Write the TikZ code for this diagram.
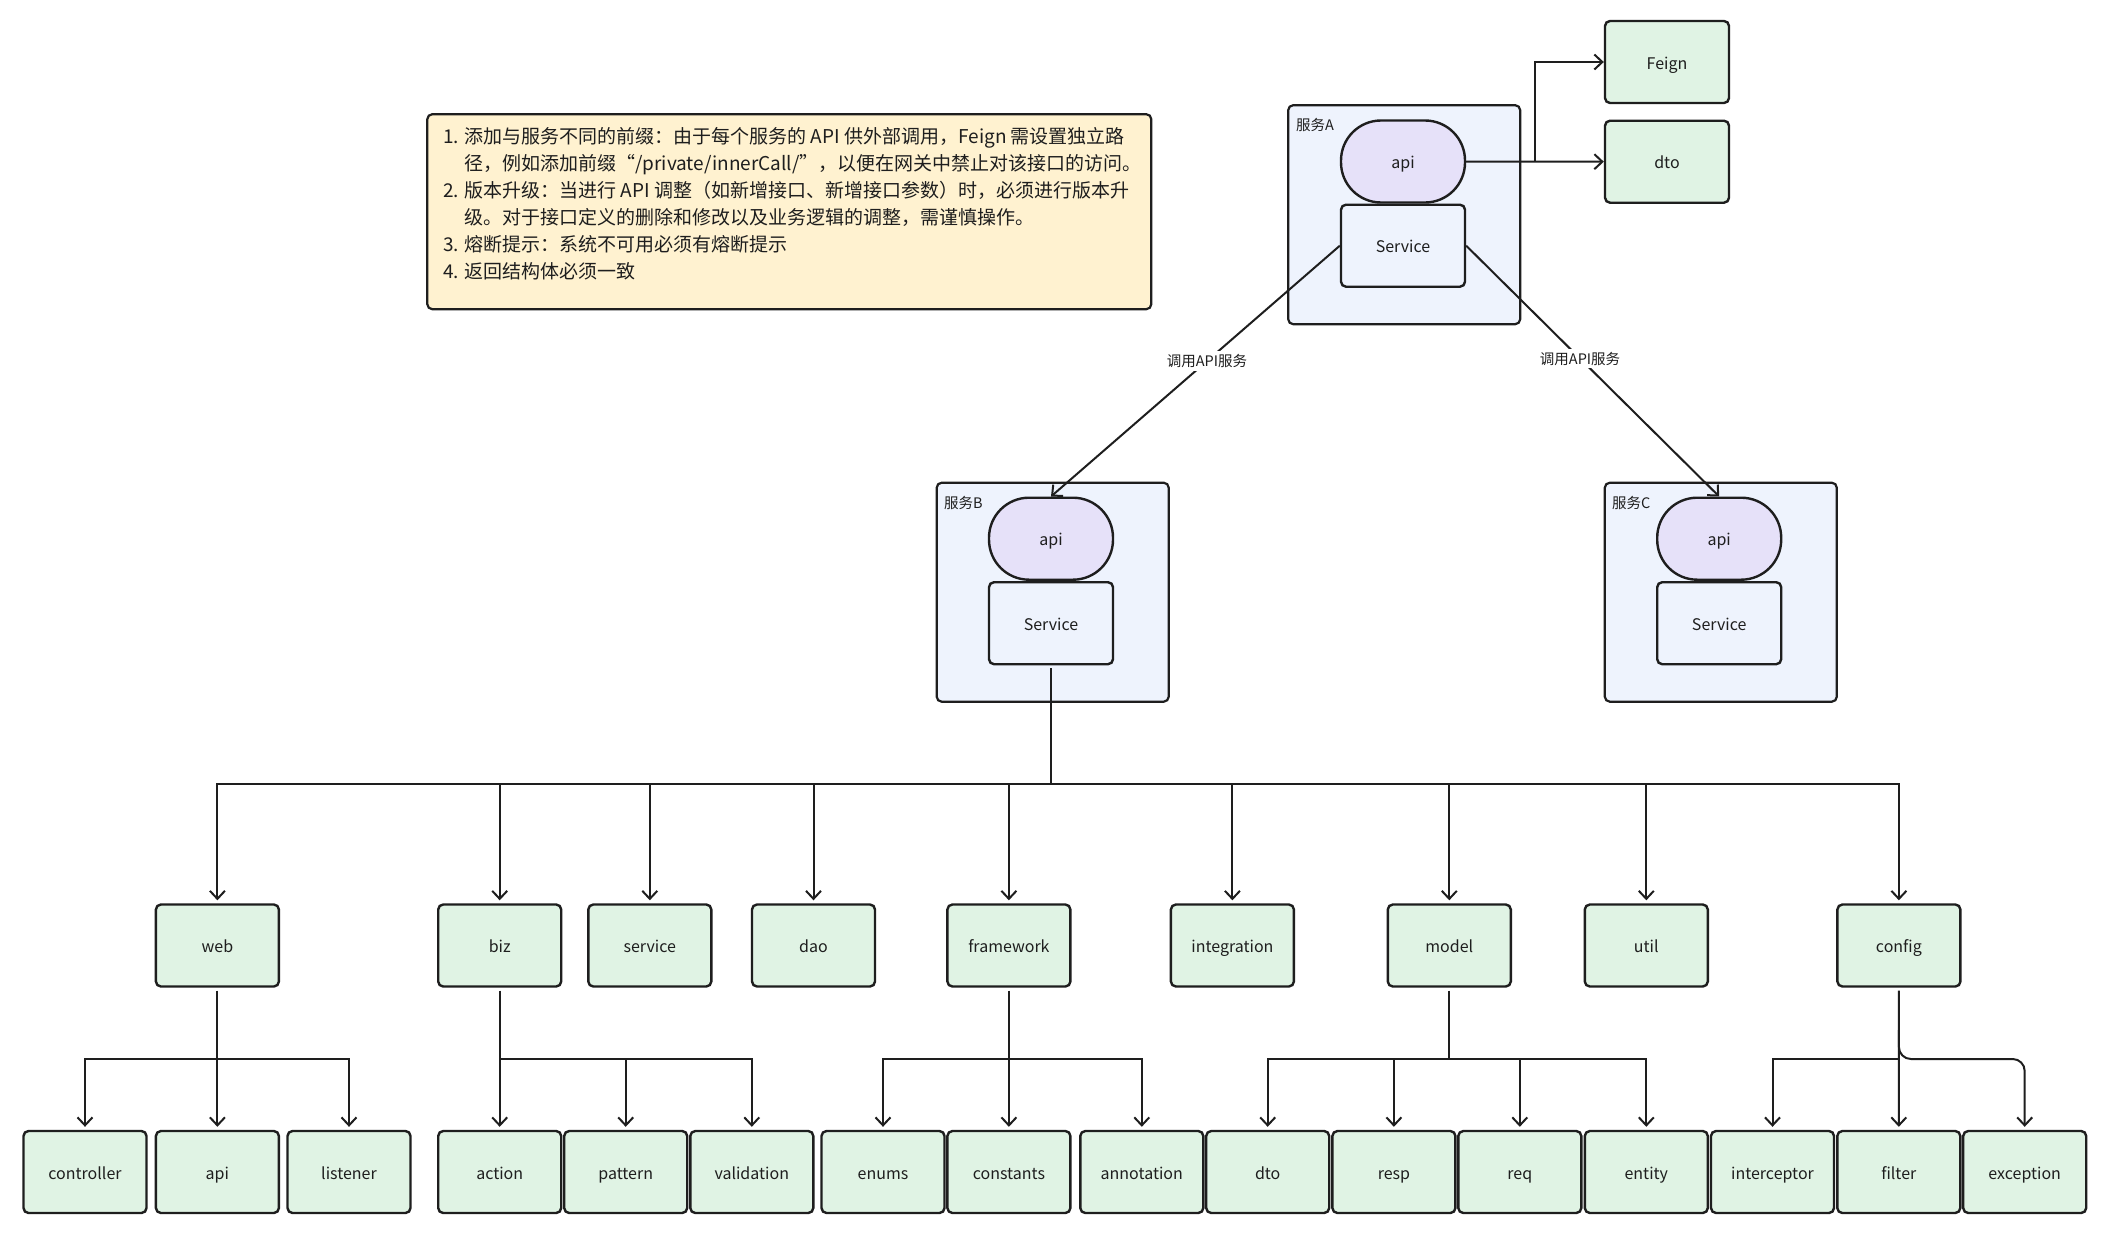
\documentclass[tikz,border=0pt]{standalone}
\usepackage{fontspec}
\setmainfont{Noto Sans CJK SC}
\usepackage{xcolor}
\usepackage{tikz}
\usetikzlibrary{arrows.meta,calc}

\definecolor{mint}{RGB}{224,243,228}
\definecolor{lav}{RGB}{230,225,249}
\definecolor{paleblue}{RGB}{238,243,253}
\definecolor{cream}{RGB}{255,242,208}
\definecolor{ink}{RGB}{30,30,30}

\begin{document}
\begin{tikzpicture}[x=1pt,y=-1pt,
  pkg/.style={draw=ink,line width=2.4pt,fill=mint,rounded corners=5pt,minimum width=123pt,minimum height=82pt,font=\fontsize{16}{18}\selectfont,text=ink,text height=15pt,text depth=1pt},
  svcbox/.style={draw=ink,line width=2.2pt,fill=paleblue,rounded corners=5pt,minimum width=232pt,minimum height=219pt},
  apibox/.style={draw=ink,line width=2.4pt,fill=lav,rounded corners=40pt,minimum width=124pt,minimum height=82pt,font=\fontsize{16}{18}\selectfont,text=ink,text height=15pt,text depth=1pt},
  implbox/.style={draw=ink,line width=2.4pt,fill=paleblue,rounded corners=5pt,minimum width=124pt,minimum height=82pt,font=\fontsize{16}{18}\selectfont,text=ink,text height=15pt,text depth=1pt},
  tag/.style={font=\fontsize{14.5}{16}\selectfont,text=ink,anchor=west,inner sep=0pt},
  callnote/.style={fill=white,inner sep=3pt,font=\fontsize{14.5}{16}\selectfont,text=ink},
  arr/.style={-{Straight Barb[length=8pt,width=15pt]},line width=2pt,draw=ink},
  link/.style={line width=2pt,draw=ink}
]
\fill[white] (0,0) rectangle (2110,1242);
\useasboundingbox (0,0) rectangle (2110,1242);

% note
\node[draw=ink,line width=2.2pt,fill=cream,rounded corners=5pt,minimum width=724pt,minimum height=195pt] (note) at (789.3,211.7) {};
\node[anchor=north west,align=left,inner sep=0pt,font=\fontsize{19}{27}\selectfont,text=ink] (notetxt) at (443,127) {1. 添加与服务不同的前缀：由于每个服务的 API 供外部调用，Feign 需设置独立路\\
\hspace*{21pt}径，例如添加前缀“/private/innerCall/”，以便在网关中禁止对该接口的访问。\\
2. 版本升级：当进行 API 调整（如新增接口、新增接口参数）时，必须进行版本升\\
\hspace*{21pt}级。对于接口定义的删除和修改以及业务逻辑的调整，需谨慎操作。\\
3. 熔断提示：系统不可用必须有熔断提示\\
4. 返回结构体必须一致};

% service A
\node[svcbox] (boxA) at (1404.2,214.7) {};
\node[tag] (tagA) at (1296,125) {服务A};
\node[apibox] (apiA) at (1403,161.5) {api};
\node[implbox] (svcA) at (1403,245.7) {Service};
\node[pkg,minimum width=124pt] (feign) at (1667,62) {Feign};
\node[pkg,minimum width=124pt] (dtoA) at (1667,161.7) {dto};
\draw[arr] (apiA.east) -- (dtoA.west);
\coordinate (fork) at (1535,161.5);
\draw[arr] (fork) |- (feign.west);

% service B
\node[svcbox] (boxB) at (1052.7,592.2) {};
\node[tag] (tagB) at (944,503) {服务B};
\node[apibox] (apiB) at (1051,538.7) {api};
\node[implbox] (svcB) at (1051,623.2) {Service};

% service C
\node[svcbox] (boxC) at (1720.8,592.2) {};
\node[tag] (tagC) at (1612,503) {服务C};
\node[apibox] (apiC) at (1719.2,538.7) {api};
\node[implbox] (svcC) at (1719.2,623.2) {Service};

\draw[arr] (svcA.west) -- node[callnote,pos=.46] {调用API服务} (apiB.north);
\draw[arr] (svcA.east) -- node[callnote,pos=.45] {调用API服务} (apiC.north);

% packages
\node[pkg] (web) at (217.4,945.5) {web};
\node[pkg] (biz) at (499.7,945.5) {biz};
\node[pkg] (service) at (649.8,945.5) {service};
\node[pkg] (dao) at (813.5,945.5) {dao};
\node[pkg] (framework) at (1008.9,945.5) {framework};
\node[pkg] (integration) at (1232.4,945.5) {integration};
\node[pkg] (model) at (1449.3,945.5) {model};
\node[pkg] (util) at (1646.3,945.5) {util};
\node[pkg] (config) at (1898.9,945.5) {config};

\node[pkg] (ctrl) at (85,1172) {controller};
\node[pkg] (apiW) at (217.4,1172) {api};
\node[pkg] (lsn) at (349,1172) {listener};
\node[pkg] (action) at (499.7,1172) {action};
\node[pkg] (pattern) at (625.7,1172) {pattern};
\node[pkg] (valid) at (751.8,1172) {validation};
\node[pkg] (enums) at (883,1172) {enums};
\node[pkg] (consts) at (1008.9,1172) {constants};
\node[pkg] (annot) at (1141.8,1172) {annotation};
\node[pkg] (dtoM) at (1267.7,1172) {dto};
\node[pkg] (resp) at (1393.9,1172) {resp};
\node[pkg] (req) at (1519.8,1172) {req};
\node[pkg] (entity) at (1646.3,1172) {entity};
\node[pkg] (intcp) at (1772.5,1172) {interceptor};
\node[pkg] (filter) at (1898.8,1172) {filter};
\node[pkg] (excp) at (2024.7,1172) {exception};

% bus under service B
\coordinate (bus) at (1051,784);
\draw[link,shorten <=3pt] (svcB.south) -- (bus);
\draw[arr,shorten >=3pt] (bus) -| (web.north);
\draw[arr,shorten >=3pt] (bus) -| (biz.north);
\draw[arr,shorten >=3pt] (bus) -| (service.north);
\draw[arr,shorten >=3pt] (bus) -| (dao.north);
\draw[arr,shorten >=3pt] (bus) -| (framework.north);
\draw[arr,shorten >=3pt] (bus) -| (integration.north);
\draw[arr,shorten >=3pt] (bus) -| (model.north);
\draw[arr,shorten >=3pt] (bus) -| (util.north);
\draw[arr,shorten >=3pt] (bus) -| (config.north);

\coordinate (jct) at (0,1059);
\draw[arr,shorten <=3pt,shorten >=3pt] (web.south) -- (apiW.north);
\draw[arr,shorten >=3pt] (web.south |- jct) -| (ctrl.north);
\draw[arr,shorten >=3pt] (web.south |- jct) -| (lsn.north);

\draw[arr,shorten <=3pt,shorten >=3pt] (biz.south) -- (action.north);
\draw[arr,shorten >=3pt] (biz.south |- jct) -| (pattern.north);
\draw[arr,shorten >=3pt] (biz.south |- jct) -| (valid.north);

\draw[arr,shorten <=3pt,shorten >=3pt] (framework.south) -- (consts.north);
\draw[arr,shorten >=3pt] (framework.south |- jct) -| (enums.north);
\draw[arr,shorten >=3pt] (framework.south |- jct) -| (annot.north);

\draw[link,shorten <=3pt] (model.south) -- (model.south |- jct);
\draw[arr,shorten >=3pt] (model.south |- jct) -| (dtoM.north);
\draw[arr,shorten >=3pt] (model.south |- jct) -| (resp.north);
\draw[arr,shorten >=3pt] (model.south |- jct) -| (req.north);
\draw[arr,shorten >=3pt] (model.south |- jct) -| (entity.north);

\draw[arr,shorten <=3pt,shorten >=3pt] (config.south) -- (filter.north);
\draw[arr,shorten >=3pt] (config.south |- jct) -| (intcp.north);
\draw[arr,shorten >=3pt,rounded corners=12pt] (config.south |- 0,1030) -- (config.south |- jct) -- (excp.north |- jct) -- (excp.north);
\end{tikzpicture}
\end{document}
